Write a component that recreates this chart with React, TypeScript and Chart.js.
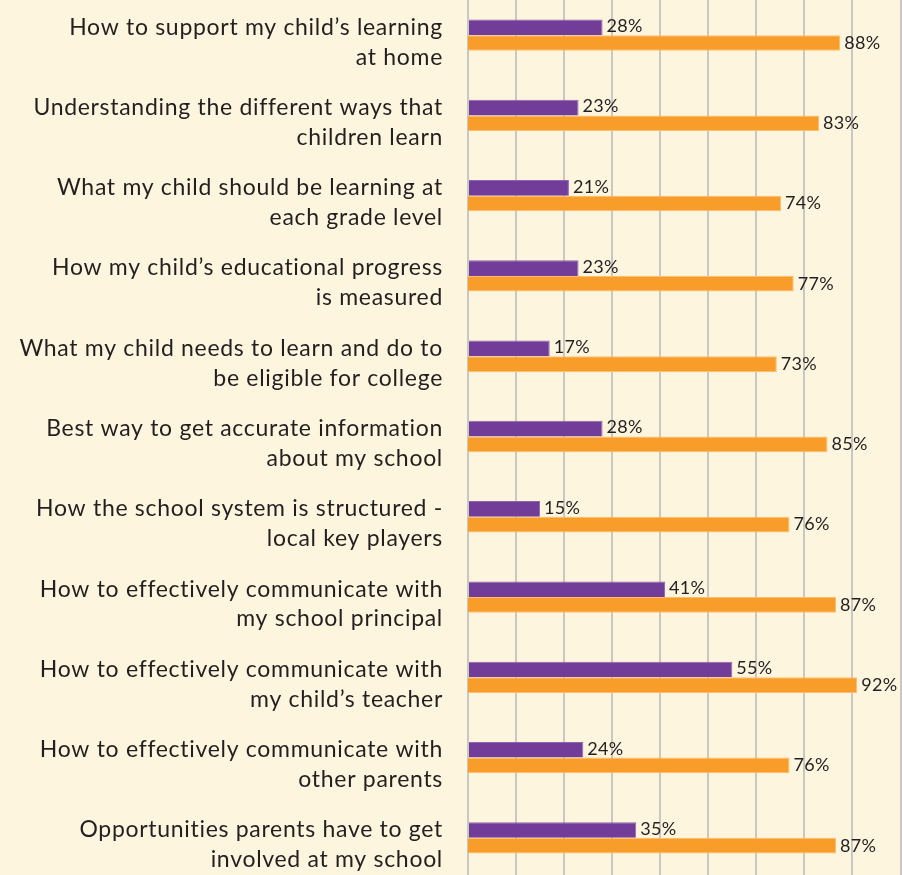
import React, { useEffect, useRef } from "react";
import { Chart, registerables } from "chart.js";

Chart.register(...registerables);

const categories: string[][] = [
  ["How to support my child’s learning", "at home"],
  ["Understanding the different ways that", "children learn"],
  ["What my child should be learning at", "each grade level"],
  ["How my child’s educational progress", "is measured"],
  ["What my child needs to learn and do to", "be eligible for college"],
  ["Best way to get accurate information", "about my school"],
  ["How the school system is structured -", "local key players"],
  ["How to effectively communicate with", "my school principal"],
  ["How to effectively communicate with", "my child’s teacher"],
  ["How to effectively communicate with", "other parents"],
  ["Opportunities parents have to get", "involved at my school"],
];

const purpleValues: number[] = [28, 23, 21, 23, 17, 28, 15, 41, 55, 24, 35];
const orangeValues: number[] = [88, 83, 74, 77, 73, 85, 76, 87, 92, 76, 87];

const PURPLE = "#723D98";
const ORANGE = "#F99D2A";
const BG = "#FEF5DF";
const TEXT = "#231F20";
const FONT = "Lato, 'Noto Sans', sans-serif";

const spacing = {
  id: "spacing",
  beforeDraw(chart: any) {
    (chart.ctx as any).letterSpacing = "0.7px";
  },
};

const valueLabels = {
  id: "valueLabels",
  afterDatasetsDraw(chart: any) {
    const ctx = chart.ctx;
    ctx.save();
    ctx.font = `18px ${FONT}`;
    (ctx as any).letterSpacing = "0.3px";
    ctx.fillStyle = TEXT;
    ctx.textAlign = "left";
    ctx.textBaseline = "middle";
    chart.data.datasets.forEach((ds: any, di: number) => {
      const meta = chart.getDatasetMeta(di);
      meta.data.forEach((el: any, i: number) => {
        const dy = di === 0 ? -1 : 0;
        ctx.fillText(`${ds.data[i]}%`, el.x + 4, el.y + dy);
      });
    });
    ctx.restore();
  },
};

export default function App() {
  const ref = useRef<HTMLCanvasElement | null>(null);

  useEffect(() => {
    if (!ref.current) return;
    const chart = new Chart(ref.current, {
      type: "bar",
      data: {
        labels: categories,
        datasets: [
          {
            data: purpleValues,
            backgroundColor: PURPLE,
            borderColor: "#8E66AE",
            borderWidth: { top: 1, right: 1, bottom: 0, left: 0 },
            xAxisID: "x",
            categoryPercentage: 0.39,
            barPercentage: 1,
          },
          {
            data: orangeValues,
            backgroundColor: ORANGE,
            borderColor: "#FBBE70",
            borderWidth: { top: 1, right: 1, bottom: 1, left: 0 },
            xAxisID: "x2",
            categoryPercentage: 0.39,
            barPercentage: 1,
          },
        ],
      },
      options: {
        indexAxis: "y",
        animation: false,
        responsive: false,
        layout: { padding: 0 },
        plugins: {
          legend: { display: false },
          tooltip: { enabled: false },
          title: { display: false },
        },
        scales: {
          x: {
            type: "linear",
            position: "bottom",
            min: 0,
            max: 90.3,
            ticks: { display: false, stepSize: 10, includeBounds: false },
            grid: { display: true, color: "#C9C7C3", lineWidth: 2, drawTicks: false },
            border: { display: false },
          },
          x2: {
            type: "linear",
            position: "bottom",
            display: false,
            min: 0,
            max: 102.6,
          },
          y: {
            type: "category",
            offset: true,
            grid: { display: false, drawTicks: false },
            border: { display: false },
            ticks: {
              color: TEXT,
              font: { family: FONT, size: 23, lineHeight: 1.3 },
              padding: 25,
              labelOffset: 7,
              autoSkip: false,
            },
            afterFit: (s: any) => {
              s.width = 468;
              s.paddingTop = 0;
              s.paddingBottom = 0;
            },
          },
        },
      },
      plugins: [spacing, valueLabels],
    });
    return () => chart.destroy();
  }, []);

  return (
    <div
      style={{
        position: "fixed",
        top: 0,
        left: 0,
        width: 902,
        height: 875,
        overflow: "hidden",
        background: BG,
      }}
    >
      <div style={{ position: "absolute", top: -5, left: 0, width: 902, height: 883 }}>
        <canvas ref={ref} width={902} height={883} style={{ display: "block" }} />
      </div>
    </div>
  );
}
